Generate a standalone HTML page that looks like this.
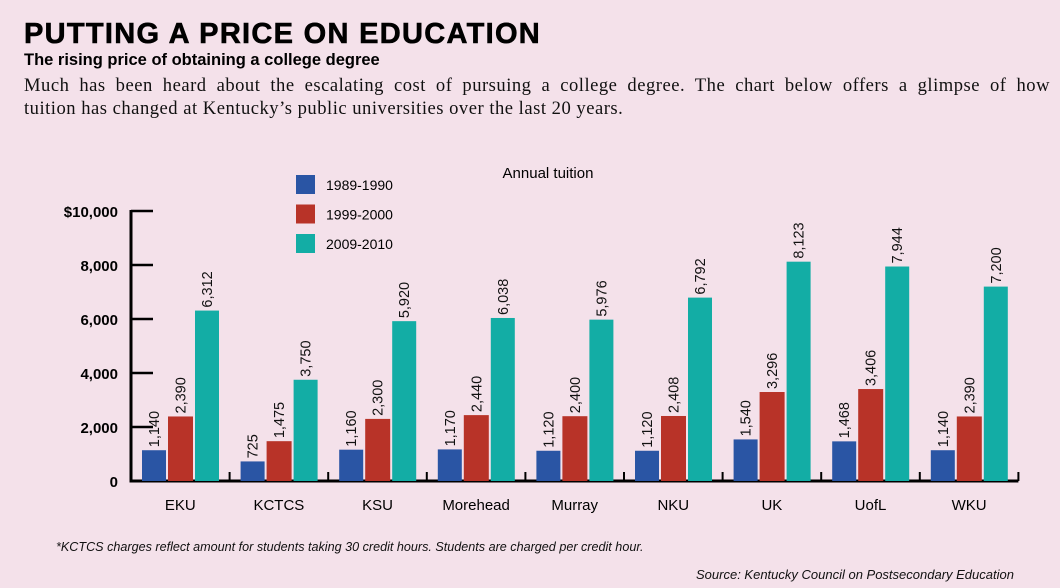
<!DOCTYPE html>
<html><head><meta charset="utf-8"><style>
body{margin:0;background:#f4e1ea;}
#wrap{position:relative;width:1060px;height:588px;background:#f4e1ea;overflow:hidden;font-family:"Liberation Sans",sans-serif;}
h1{position:absolute;left:24px;top:18px;margin:0;font-size:29px;font-weight:bold;letter-spacing:1.3px;color:#000;-webkit-text-stroke:0.6px #000;}
h2{position:absolute;left:24px;top:51px;margin:0;font-size:16.5px;font-weight:bold;color:#000;}
.intro{position:absolute;left:24px;top:74px;width:1026px;font-family:"Liberation Serif",serif;font-size:18.6px;line-height:23px;color:#111;letter-spacing:0.5px;}
.l1{display:block;text-align:justify;text-align-last:justify;white-space:nowrap;}
.l2{display:block;}
.note{position:absolute;font-style:italic;color:#111;}
</style></head><body>
<div id="wrap">
<h1>PUTTING A PRICE ON EDUCATION</h1>
<h2>The rising price of obtaining a college degree</h2>
<div class="intro"><span class="l1">Much has been heard about the escalating cost of pursuing a college degree. The chart below offers a glimpse of how</span><span class="l2">tuition has changed at Kentucky’s public universities over the last 20 years.</span></div>
<svg id="chart" width="1060" height="588" style="position:absolute;left:0;top:0"></svg>
<div class="note" style="left:56px;top:540px;font-size:12.6px">*KCTCS charges reflect amount for students taking 30 credit hours. Students are charged per credit hour.</div>
<div class="note" style="left:696px;top:567px;font-size:13px">Source:  Kentucky Council on Postsecondary Education</div>
</div>
<script>
const categories=["EKU","KCTCS","KSU","Morehead","Murray","NKU","UK","UofL","WKU"];
const series1989=[1140,725,1160,1170,1120,1120,1540,1468,1140];
const series1999=[2390,1475,2300,2440,2400,2408,3296,3406,2390];
const series2009=[6312,3750,5920,6038,5976,6792,8123,7944,7200];
const seriesNames=["1989-1990","1999-2000","2009-2010"];
const yTicks=[0,2000,4000,6000,8000,10000];
const yTickLabels=["0","2,000","4,000","6,000","8,000","$10,000"];

const NS="http://www.w3.org/2000/svg";
const svg=document.getElementById('chart');
const colors=["#2a55a4","#b83328","#13ada5"];
const x0=131,step=98.6,base=481,top10k=211;
function y(v){return base-(v/10000)*(base-top10k);}
function gx(i){return x0+i*step;}
function mk(tag,attrs){const e=document.createElementNS(NS,tag);for(const k in attrs)e.setAttribute(k,attrs[k]);svg.appendChild(e);return e;}
function txt(x,yy,s,attrs){const t=mk('text',Object.assign({x:x,y:yy,'font-family':'Liberation Sans, sans-serif'},attrs));t.textContent=s;return t;}

let a=mk('line',{x1:x0,y1:y(10000)-1,x2:x0,y2:base+1.5,stroke:'#000','stroke-width':3});


a=mk('line',{x1:x0,y1:base,x2:gx(categories.length),y2:base,stroke:'#000','stroke-width':3});


yTicks.forEach((v,i)=>{
  if(v>0){const l=mk('line',{x1:x0,y1:y(v),x2:x0+22,y2:y(v),stroke:'#000','stroke-width':2.5});
  
  }
  const t=txt(118,y(v)+6,yTickLabels[i],{'font-size':15,'font-weight':'bold','text-anchor':'end',fill:'#000'});
  
  
});
for(let i=1;i<=categories.length;i++){
  const l=mk('line',{x1:gx(i),y1:base-9,x2:gx(i),y2:base,stroke:'#000','stroke-width':2});
  
  
}
const all=[series1989,series1999,series2009];
const offs=[11,37,64],widths=[24,25,24];
categories.forEach((c,i)=>{
  all.forEach((s,k)=>{
    const bx=gx(i)+offs[k],by=y(s[i]);
    const r=mk('rect',{x:bx,y:by,width:widths[k],height:base-by,fill:colors[k]});
    
    
    const cx=bx+widths[k]/2+5,cy=by-3;
    const t=txt(cx,cy,s[i].toLocaleString('en-US'),{'font-size':14.5,fill:'#111',transform:'rotate(-90 '+cx+' '+cy+')'});
    
    
  });
  const t=txt(gx(i)+step/2,510,c,{'font-size':15,'text-anchor':'middle',fill:'#000'});
  
  
});
let lt=txt(548,178,"Annual tuition",{'font-size':15,'text-anchor':'middle',fill:'#000'});


seriesNames.forEach((n,k)=>{
  const ly=175+k*29.5;
  const r=mk('rect',{x:296,y:ly,width:19,height:19,fill:colors[k]});
  
  
  const t=txt(326,ly+15,n,{'font-size':14,fill:'#000'});
  
  
});
</script>
</body></html>
